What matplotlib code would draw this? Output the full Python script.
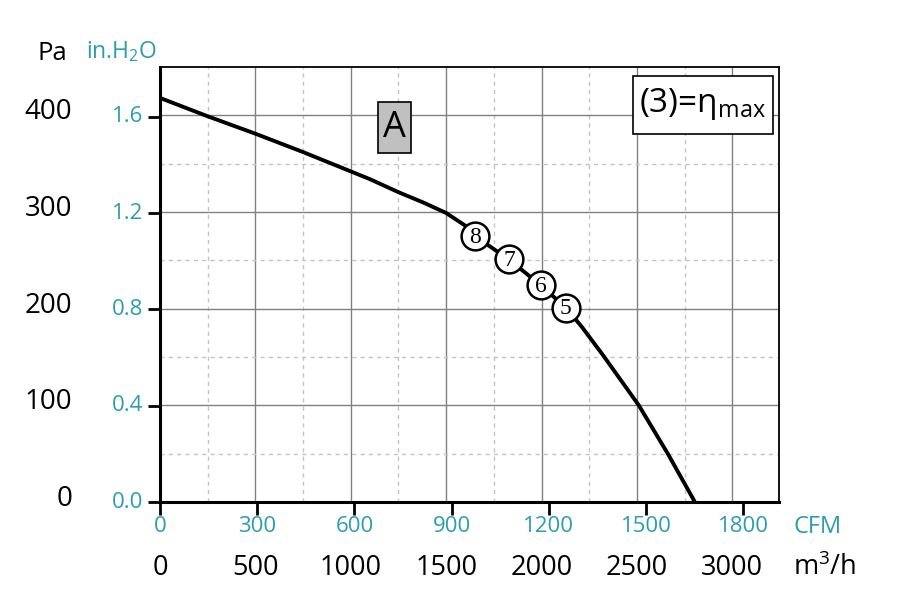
import matplotlib
matplotlib.use("Agg")
import matplotlib.pyplot as plt
from matplotlib.patches import Rectangle
from matplotlib.transforms import blended_transform_factory as btf

plt.rcParams['font.family'] = ['Open Sans', 'DejaVu Sans']
plt.rcParams['mathtext.default'] = 'regular'

# data (m3/h, Pa)
flow = [0, 250, 500, 750, 1000, 1100, 1250, 1378, 1500, 1607, 1651, 1829, 1997, 2128, 2212, 2322, 2510, 2662, 2804]
pres = [418, 399, 381, 362, 342, 334, 320.5, 310, 299, 285, 275, 251, 224, 201, 181, 152, 100, 50, 0]

pt_labels = ['8', '7', '6', '5']
pt_flow = [1651, 1829, 1997, 2128]
pt_pres = [275, 251, 224, 201]

pa_ticks = [0, 100, 200, 300, 400]
inh2o_ticks = [0.0, 0.4, 0.8, 1.2, 1.6]
m3h_ticks = [0, 500, 1000, 1500, 2000, 2500, 3000]
cfm_ticks = [0, 300, 600, 900, 1200, 1500, 1800]

PA_PER_INH2O = 249.089
M3H_PER_CFM = 1.699

TEAL = '#2c9db0'

fig = plt.figure(figsize=(9.05, 6.01), dpi=100)
ax = fig.add_axes([160/905, 1-502/601, (779-160)/905, (502-67)/601])
ax.set_xlim(0, 3245)
ax.set_ylim(0, 450)

# grid
for v in range(500, 3245, 500):
    ax.axvline(v, color='#808080', lw=1.0, zorder=1)
for v in range(250, 3245, 500):
    ax.axvline(v, color='#c4c4c4', lw=1.0, ls=(0, (3, 3)), zorder=1)
for v in range(100, 450, 100):
    ax.axhline(v, color='#808080', lw=1.0, zorder=1)
for v in range(50, 450, 100):
    ax.axhline(v, color='#c4c4c4', lw=1.0, ls=(0, (3, 3)), zorder=1)

ax.plot(flow, pres, color='black', lw=2.8, zorder=3, solid_joinstyle='round')

for lab, fx, py in zip(pt_labels, pt_flow, pt_pres):
    ax.plot(fx, py, 'o', ms=20, mfc='white', mec='black', mew=1.8, zorder=4)
    ax.text(fx, py - 1, lab, ha='center', va='center', fontsize=17,
            family='Liberation Serif', zorder=5)

# spines
for s in ['left', 'bottom']:
    ax.spines[s].set_linewidth(2.2)
for s in ['top', 'right']:
    ax.spines[s].set_linewidth(1.3)

# ticks: left at in.H2O, bottom at CFM
ax.set_yticks([v * PA_PER_INH2O for v in inh2o_ticks])
ax.set_xticks([v * M3H_PER_CFM for v in cfm_ticks])
ax.set_yticklabels([])
ax.set_xticklabels([])
ax.tick_params(axis='both', direction='out', length=9, width=2.0, color='black')

# left labels
ty = btf(fig.transFigure, ax.transData)
for v, inh in zip(pa_ticks, inh2o_ticks):
    ax.text(72/905, v + 3, str(v), transform=ty, ha='right', va='center',
            fontsize=20, color='black')
    ax.text(143/905, inh * PA_PER_INH2O, f'{inh:.1f}', transform=ty, ha='right',
            va='center', fontsize=16, color=TEAL)

fig.text(37/905, 1-53/601, 'Pa', ha='left', va='center', fontsize=18.5, color='black')
fig.text(86/905, 1-52/601, 'in.H$_2$O', ha='left', va='center', fontsize=16.5, color=TEAL)

# bottom labels
tx = btf(ax.transData, fig.transFigure)
for v in cfm_ticks:
    ax.text(v * M3H_PER_CFM, 1-527/601, str(v), transform=tx, ha='center', va='center',
            fontsize=16, color=TEAL)
for v in m3h_ticks:
    ax.text(v, 1-568/601, str(v), transform=tx, ha='center', va='center',
            fontsize=19.5, color='black')
fig.text(793/905, 1-527/601, 'CFM', ha='left', va='center', fontsize=17, color=TEAL)
fig.text(793/905, 1-568/601, 'm$^3$/h', ha='left', va='center', fontsize=19.5, color='black')

# annotation "A" box
ax.add_patch(Rectangle(((378-160)/619, (502-153)/435), 33/619, 51/435,
                       transform=ax.transAxes, fc='#c0c0c0', ec='black', lw=1.2, zorder=6))
ax.text((394.5-160)/619, (502-128)/435, 'A', transform=ax.transAxes, ha='center',
        va='center', fontsize=26, zorder=7)

# eta box
ax.add_patch(Rectangle(((633-160)/619, (502-134)/435), 140/619, 58/435,
                       transform=ax.transAxes, fc='white', ec='black', lw=1.2, zorder=6))
ax.text((703-160)/619, (502-104)/435, '(3)=η$_{max}$', transform=ax.transAxes,
        ha='center', va='center', fontsize=24, zorder=7)

fig.savefig('out.png', dpi=100)
